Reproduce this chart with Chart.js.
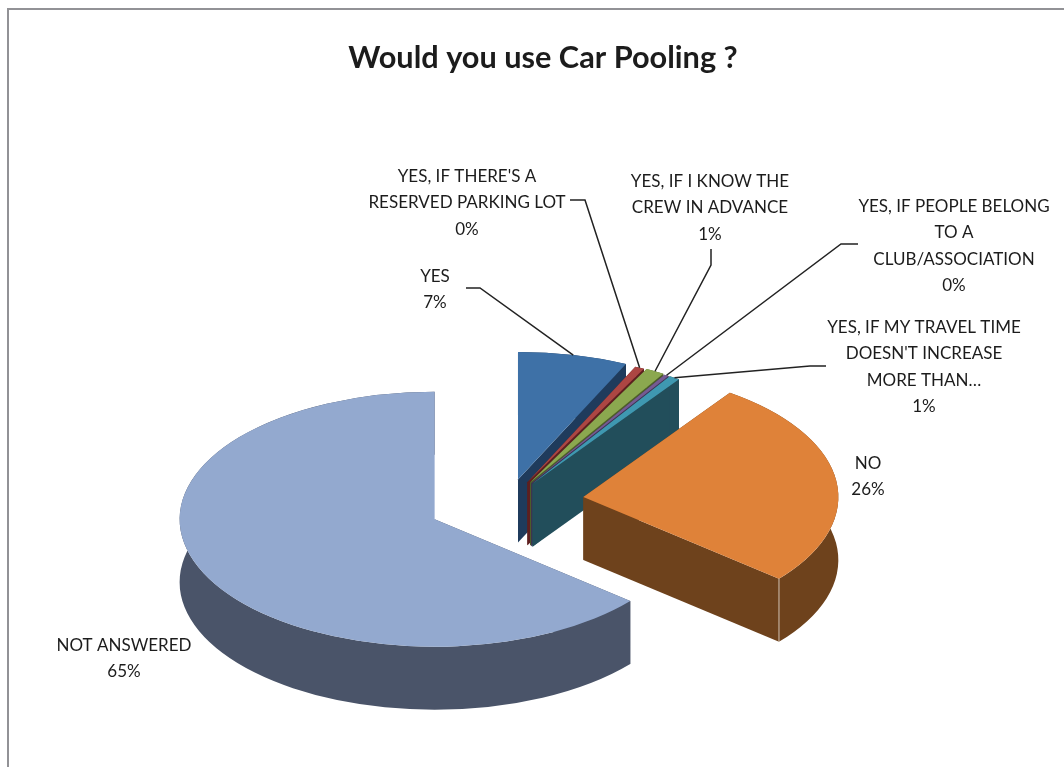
<!DOCTYPE html>
<html>
<head>
<meta charset="utf-8">
<style>
  html, body { margin: 0; padding: 0; background: #fff; overflow: hidden; }
  #frame { position: absolute; left: 7px; top: 8px; width: 1100px; height: 800px; border-left: 2px solid #929296; border-top: 2px solid #929296; }
  #myChart { position: absolute; left: 0; top: 0; }
</style>
</head>
<body>
<div id="frame"></div>
<canvas id="myChart" width="1064" height="767"></canvas>
<script src="https://cdn.jsdelivr.net/npm/chart.js@4/dist/chart.umd.js"></script>
<script>
const categories = ["YES", "YES, IF THERE'S A RESERVED PARKING LOT", "YES, IF I KNOW THE CREW IN ADVANCE",
  "YES, IF PEOPLE BELONG TO A CLUB/ASSOCIATION", "YES, IF MY TRAVEL TIME DOESN'T INCREASE MORE THAN...", "NO", "NOT ANSWERED"];
const values = [7.0, 0.6, 1.2, 0.3, 0.7, 26.5, 64.3];
const percentLabels = ["7%", "0%", "1%", "0%", "1%", "26%", "65%"];
const labelLines = [
  ["YES"],
  ["YES, IF THERE'S A", "RESERVED PARKING LOT"],
  ["YES, IF I KNOW THE", "CREW IN ADVANCE"],
  ["YES, IF PEOPLE BELONG", "TO A", "CLUB/ASSOCIATION"],
  ["YES, IF MY TRAVEL TIME", "DOESN'T INCREASE", "MORE THAN\u2026"],
  ["NO"],
  ["NOT ANSWERED"]
];

// styling and layout, kept apart from the data
const topColors = ["#3e71a7", "#ac4643", "#8ba84f", "#755b92", "#3f98b1", "#df8239", "#93a9cf"];
const wallColors = ["#1f3b5c", "#5e1f1f", "#4d5e2a", "#3f3052", "#224e5b", "#6e421c", "#4a5469"];
const explode = [46, 44, 45, 44, 44, 76, 81];
const labelCenters = [[435, 276], [467, 176], [710, 181], [954, 206], [924, 327], [868, 463], [124, 645]];
const leaderStarts = [[466, 288], [570, 200], [711, 249], [858, 244], [826, 366], null, null];
const leaderElbows = [[480, 288], [585, 200], [711, 265], [841, 244], [810, 366], null, null];

const pieX = 508, pieY = 502, squash = 0.5, depth = 126;
const lineHeight = 26.5;
const labelStretch = 0.945;

function squashCtx(ctx) {
  ctx.translate(0, pieY);
  ctx.scale(1, squash);
  ctx.translate(0, -pieY);
}

// moves each arc to its exploded place, the pie is drawn flat and squashed later
const tiltPlugin = {
  id: "tilt",
  afterDatasetsUpdate(chart) {
    chart.getDatasetMeta(0).data.forEach((arc, i) => {
      const mid = (arc.startAngle + arc.endAngle) / 2;
      arc.x = pieX + Math.cos(mid) * explode[i];
      arc.y = pieY + Math.sin(mid) * explode[i];
    });
  },
  beforeDatasetDraw(chart) {
    const ctx = chart.ctx;
    ctx.save();
    squashCtx(ctx);
    chart.getDatasetMeta(0).data.forEach((arc, i) => {
      const {x, y, startAngle: a0, endAngle: a1, outerRadius: r} = arc;
      ctx.fillStyle = wallColors[i];
      // radial faces
      [a0, a1].forEach(a => {
        ctx.beginPath();
        ctx.moveTo(x, y);
        ctx.lineTo(x + Math.cos(a) * r, y + Math.sin(a) * r);
        ctx.lineTo(x + Math.cos(a) * r, y + Math.sin(a) * r + depth);
        ctx.lineTo(x, y + depth);
        ctx.closePath();
        ctx.fill();
      });
      // rim
      ctx.beginPath();
      ctx.arc(x, y, r, a0, a1);
      ctx.arc(x, y + depth, r, a1, a0, true);
      ctx.closePath();
      ctx.fill();
    });
    // thin seam on the NO slice corner
    const no = chart.getDatasetMeta(0).data[5];
    const sx = no.x + Math.cos(no.endAngle) * no.outerRadius;
    const sy = no.y + Math.sin(no.endAngle) * no.outerRadius;
    ctx.strokeStyle = "#f4efe8";
    ctx.lineWidth = 1;
    ctx.beginPath();
    ctx.moveTo(sx, sy);
    ctx.lineTo(sx, sy + depth);
    ctx.stroke();
  },
  afterDatasetDraw(chart) {
    chart.ctx.restore();
  },
  afterDraw(chart) {
    const ctx = chart.ctx;
    ctx.save();
    ctx.strokeStyle = "#222";
    ctx.lineWidth = 1.5;
    chart.getDatasetMeta(0).data.forEach((arc, i) => {
      if (!leaderStarts[i]) return;
      const mid = (arc.startAngle + arc.endAngle) / 2;
      const ex = arc.x + Math.cos(mid) * arc.outerRadius;
      const ey = pieY + (arc.y + Math.sin(mid) * arc.outerRadius - pieY) * squash;
      ctx.beginPath();
      ctx.moveTo(leaderStarts[i][0], leaderStarts[i][1]);
      ctx.lineTo(leaderElbows[i][0], leaderElbows[i][1]);
      ctx.lineTo(ex, ey);
      ctx.stroke();
    });
    ctx.fillStyle = "#1c1c1c";
    ctx.font = "18px Lato";
    ctx.textAlign = "center";
    ctx.textBaseline = "middle";
    ctx.scale(labelStretch, 1);
    labelLines.forEach((lines, i) => {
      const [cx, cy] = labelCenters[i];
      lines.concat(percentLabels[i]).forEach((t, k) => {
        ctx.fillText(t, cx / labelStretch, cy + k * lineHeight);
      });
    });
    ctx.restore();
  }
};

new Chart(document.querySelector("#myChart"), {
  type: "pie",
  data: {
    labels: categories,
    datasets: [{
      data: values,
      backgroundColor: topColors,
      borderWidth: 0,
      radius: 255,
      clip: false
    }]
  },
  options: {
    responsive: false,
    animation: false,
    events: [],
    layout: { padding: { left: 22 } },
    plugins: {
      legend: { display: false },
      tooltip: { enabled: false },
      title: {
        display: true,
        text: "Would you use Car Pooling ?",
        color: "#1c1c1c",
        font: { family: "Lato", size: 30.7, weight: "bold" },
        padding: { top: 40, bottom: 10 }
      }
    }
  },
  plugins: [tiltPlugin]
});
</script>
</body>
</html>
